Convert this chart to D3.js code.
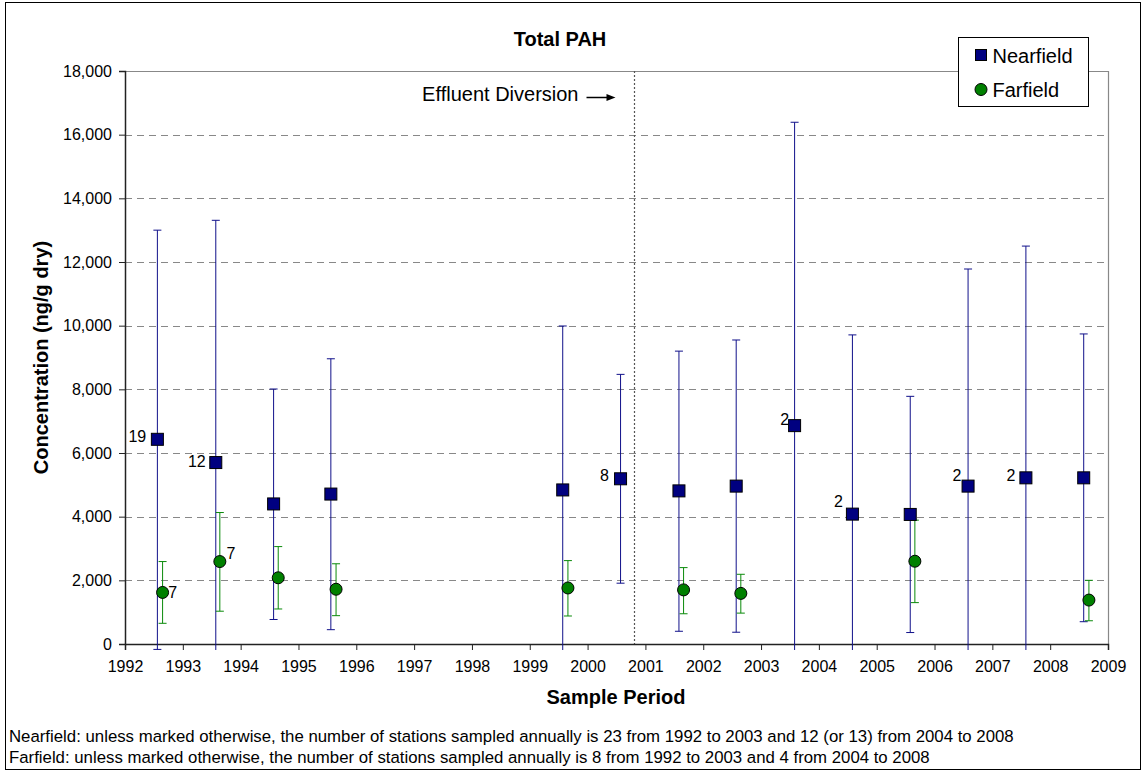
<!DOCTYPE html>
<meta charset="utf-8">
<script src="https://d3js.org/d3.v7.min.js"></script>
<style>
  body { margin: 0; background: #fff; }
  text { font-family: "Liberation Sans", Arial, sans-serif; fill: #000; }
</style>
<div id="chart"></div>
<script>

// ---- data ----
var nearYear = [1992.56, 1993.57, 1994.57, 1995.56, 1999.57, 2000.57, 2001.58, 2002.57, 2003.58, 2004.58, 2005.58, 2006.58, 2007.58, 2008.58];
var nearMean = [6430, 5700, 4400, 4710, 4840, 5190, 4810, 4960, 6860, 4080, 4070, 4960, 5220, 5220];
var nearHigh = [13000, 13310, 8010, 8960, 9990, 8470, 9200, 9550, 16390, 9710, 7780, 11780, 12500, 9740];
var nearLow  = [-170, -1910, 770, 450, -310, 1910, 400, 370, -2670, -1550, 360, -1860, -2060, 700];
var nearN    = ["19", "12", "", "", "", "8", "", "", "2", "2", "", "2", "2", ""];

var farYear = [1992.65, 1993.64, 1994.65, 1995.65, 1999.66, 2001.66, 2002.65, 2005.66, 2008.67];
var farMean = [1620, 2590, 2080, 1720, 1760, 1700, 1590, 2600, 1380];
var farHigh = [2590, 4130, 3060, 2520, 2620, 2400, 2190, 3890, 2000];
var farLow  = [650, 1030, 1100, 890, 880, 950, 970, 1300, 730];
var farN    = ["7", "7", "", "", "", "", "", "", ""];

var yearTicks = d3.range(1992, 2010);
var yTicks = d3.range(0, 18001, 2000);
var diversionYear = 2000.8;

var footnotes = [
  "Nearfield: unless marked otherwise, the number of stations sampled annually is 23 from 1992 to 2003 and 12 (or 13) from 2004 to 2008",
  "Farfield: unless marked otherwise, the number of stations sampled annually is 8 from 1992 to 2003 and 4 from 2004 to 2008"
];

// where the count labels sit next to their marker (dx, dy in px)
var nearLabelOff = [[-20, -3], [-19, -1], null, null, null, [-16, -4], null, null, [-10, -6], [-14, -13], null, [-11, -11], [-15, -3], null];
var farLabelOff  = [[10, 0], [11, -8], null, null, null, null, null, null, null];

var near = nearYear.map(function (d, i) {
  return {x: d, y: nearMean[i], hi: nearHigh[i], lo: nearLow[i], n: nearN[i], off: nearLabelOff[i]};
});
var far = farYear.map(function (d, i) {
  return {x: d, y: farMean[i], hi: farHigh[i], lo: farLow[i], n: farN[i], off: farLabelOff[i]};
});

// ---- layout ----
var W = 1143, H = 771;
var pL = 125, pR = 1108, pT = 71, pB = 644;

var svg = d3.select("#chart").append("svg")
    .attr("width", W)
    .attr("height", H);

var x = d3.scaleLinear().domain([1992, 2009]).range([pL, pR]);
var y = d3.scaleLinear().domain([0, 18000]).range([pB, pT]);

// outer frame
svg.append("rect")
    .attr("x", 5.5).attr("y", 2.5)
    .attr("width", 1135).attr("height", 767)
    .attr("fill", "none")
    .attr("stroke", "#000");

// grid lines
svg.append("g")
  .selectAll("line")
  .data(yTicks.filter(function (d) { return d > 0 && d < 18000; }))
  .enter().append("line")
    .attr("x1", pL).attr("x2", pR)
    .attr("y1", function (d) { return Math.round(y(d)) + 0.5; })
    .attr("y2", function (d) { return Math.round(y(d)) + 0.5; })
    .attr("stroke", "#888")
    .attr("stroke-dasharray", "7,5");

// plot border top/right
svg.append("path")
    .attr("d", "M" + pL + "," + (pT + 0.5) + "H" + (pR + 0.5) + "V" + pB)
    .attr("fill", "none")
    .attr("stroke", "#888")
    .attr("stroke-width", 1.2);

// effluent diversion line
var xd = Math.round(x(diversionYear)) + 0.5;
svg.append("line")
    .attr("x1", xd).attr("x2", xd)
    .attr("y1", pT).attr("y2", pB)
    .attr("stroke", "#555")
    .attr("stroke-width", 1.2)
    .attr("stroke-dasharray", "2,2");

svg.append("text")
    .attr("x", xd - 56).attr("y", pT + 30)
    .attr("text-anchor", "end")
    .style("font-size", "20px")
    .text("Effluent Diversion");
svg.append("line")
    .attr("x1", xd - 48).attr("x2", xd - 26)
    .attr("y1", pT + 26.5).attr("y2", pT + 26.5)
    .attr("stroke", "#000").attr("stroke-width", 1.5);
svg.append("path")
    .attr("d", "M" + (xd - 19) + "," + (pT + 26.5) + "l-9,-3.5v7z")
    .attr("fill", "#000");

// axes
var yAxis = d3.axisLeft(y).tickValues(yTicks).tickSize(6).tickFormat(d3.format(","));
var xAxis = d3.axisBottom(x).tickValues(yearTicks).tickSize(6).tickFormat(d3.format("d"));

var gy = svg.append("g")
    .attr("transform", "translate(" + pL + ",0)")
    .call(yAxis);
var gx = svg.append("g")
    .attr("transform", "translate(0," + pB + ")")
    .call(xAxis);

[gx, gy].forEach(function (g) {
  g.select(".domain").attr("stroke", "#222").attr("stroke-width", 1.5);
  g.selectAll(".tick line").attr("stroke", "#222");
  g.selectAll(".tick text")
      .style("font-size", "16px")
      .style("font-family", "'Liberation Sans', Arial, sans-serif")
      .attr("fill", "#000");
});
gy.selectAll(".tick text").attr("x", -13);
gx.selectAll(".tick text").attr("y", 17);

// error bars (clipped just below the axis, like the original)
svg.append("clipPath").attr("id", "clip")
  .append("rect")
    .attr("x", pL).attr("y", pT - 2)
    .attr("width", pR - pL).attr("height", pB - pT + 8);

function errorBars(data, color, cls) {
  var g = svg.append("g").attr("clip-path", "url(#clip)").attr("class", cls);
  var bars = g.selectAll("g").data(data).enter().append("g");
  bars.append("line")
      .attr("x1", function (d) { return x(d.x); })
      .attr("x2", function (d) { return x(d.x); })
      .attr("y1", function (d) { return y(d.hi); })
      .attr("y2", function (d) { return y(d.lo); })
      .attr("stroke", color);
  bars.append("line")
      .attr("x1", function (d) { return x(d.x) - 4; })
      .attr("x2", function (d) { return x(d.x) + 4; })
      .attr("y1", function (d) { return y(d.hi); })
      .attr("y2", function (d) { return y(d.hi); })
      .attr("stroke", color);
  bars.append("line")
      .attr("x1", function (d) { return x(d.x) - 4; })
      .attr("x2", function (d) { return x(d.x) + 4; })
      .attr("y1", function (d) { return y(d.lo); })
      .attr("y2", function (d) { return y(d.lo); })
      .attr("stroke", color);
}
errorBars(near, "#10108a", "near-err");
errorBars(far, "#0a8a0a", "far-err");

// markers
svg.append("g")
  .selectAll("rect")
  .data(near)
  .enter().append("rect")
    .attr("x", function (d) { return x(d.x) - 6; })
    .attr("y", function (d) { return y(d.y) - 6; })
    .attr("width", 12).attr("height", 12)
    .attr("fill", "#000080")
    .attr("stroke", "#000")
    .attr("stroke-width", 1);

svg.append("g")
  .selectAll("circle")
  .data(far)
  .enter().append("circle")
    .attr("cx", function (d) { return x(d.x); })
    .attr("cy", function (d) { return y(d.y); })
    .attr("r", 6)
    .attr("fill", "#008000")
    .attr("stroke", "#000")
    .attr("stroke-width", 1);

// count labels
function countLabels(data) {
  svg.append("g")
    .selectAll("text")
    .data(data.filter(function (d) { return d.n !== ""; }))
    .enter().append("text")
      .attr("x", function (d) { return x(d.x) + d.off[0]; })
      .attr("y", function (d) { return y(d.y) + d.off[1]; })
      .attr("dy", "0.36em")
      .attr("text-anchor", "middle")
      .style("font-size", "16px")
      .text(function (d) { return d.n; });
}
countLabels(near);
countLabels(far);

// title
svg.append("text")
    .attr("x", 560).attr("y", 46)
    .attr("text-anchor", "middle")
    .style("font-size", "20px")
    .style("font-weight", "bold")
    .text("Total PAH");

// axis titles
svg.append("text")
    .attr("transform", "translate(48," + ((pT + pB) / 2) + ") rotate(-90)")
    .attr("text-anchor", "middle")
    .style("font-size", "20px")
    .style("font-weight", "bold")
    .text("Concentration (ng/g dry)");

svg.append("text")
    .attr("x", 616).attr("y", 704)
    .attr("text-anchor", "middle")
    .style("font-size", "20px")
    .style("font-weight", "bold")
    .text("Sample Period");

// footnotes
svg.append("g")
  .selectAll("text")
  .data(footnotes)
  .enter().append("text")
    .attr("x", 9)
    .attr("y", function (d, i) { return 742 + i * 21; })
    .style("font-size", "16.8px")
    .text(function (d) { return d; });

// legend
var lg = svg.append("g").attr("transform", "translate(958.5,37.5)");
lg.append("rect")
    .attr("width", 130).attr("height", 69)
    .attr("fill", "#fff")
    .attr("stroke", "#000");
lg.append("rect")
    .attr("x", 17).attr("y", 12)
    .attr("width", 11).attr("height", 11)
    .attr("fill", "#000080").attr("stroke", "#000");
lg.append("text")
    .attr("x", 34).attr("y", 25)
    .style("font-size", "20px")
    .text("Nearfield");
lg.append("circle")
    .attr("cx", 22.5).attr("cy", 52)
    .attr("r", 6)
    .attr("fill", "#008000").attr("stroke", "#000");
lg.append("text")
    .attr("x", 34).attr("y", 59)
    .style("font-size", "20px")
    .text("Farfield");

</script>
